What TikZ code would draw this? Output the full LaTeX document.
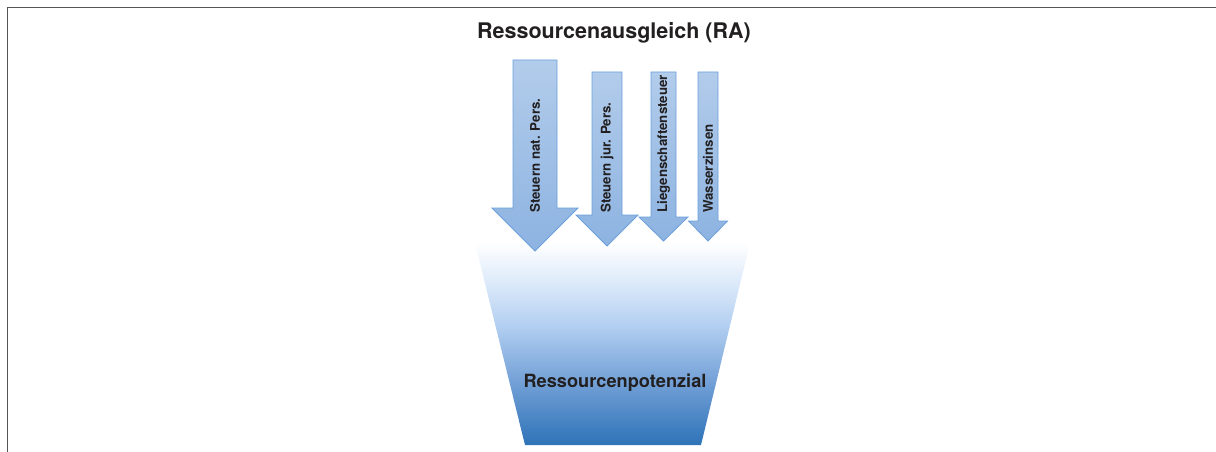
\documentclass[tikz,border=0pt]{standalone}
\usepackage{fontspec}
\setmainfont{TeX Gyre Heros}
\begin{document}
\definecolor{inkdark}{RGB}{34,31,32}
\definecolor{framegray}{RGB}{85,85,85}
\definecolor{arrowtop}{RGB}{178,204,235}
\definecolor{arrowbot}{RGB}{141,179,225}
\definecolor{arrowline}{RGB}{108,160,218}
\definecolor{potA}{RGB}{46,115,184}
\definecolor{potB}{RGB}{112,158,213}
\definecolor{potC}{RGB}{176,205,240}
\definecolor{potD}{RGB}{216,231,249}
\pgfdeclareverticalshading{potshade}{100bp}{%
  color(0bp)=(potA); color(25bp)=(potA); color(40bp)=(potB);
  color(54bp)=(potC); color(64bp)=(potD); color(75bp)=(white);
  color(100bp)=(white)}
% down arrow: centre x, shaft half width, top y, head y, head half width, tip y
\newcommand\taxarrow[7]{%
  \coordinate (#7-tip) at (#1,#6);
  \path[flowarrow]
    (#1-#2,#3) -- (#1+#2,#3) -- (#1+#2,#4) -- (#1+#5,#4) -- (#7-tip)
    -- (#1-#5,#4) -- (#1-#2,#4) -- cycle;}
\begin{tikzpicture}[x=1pt,y=-1pt,
  flowarrow/.style={draw=arrowline,line width=0.8pt,line join=miter,
    top color=arrowtop,bottom color=arrowbot},
  vlabel/.style={rotate=90,anchor=west,inner sep=0pt,font=\bfseries\fontsize{13.3}{15}\selectfont,text=inkdark},
  heading/.style={font=\bfseries\fontsize{21.5}{24}\selectfont,text=inkdark},
  potlabel/.style={font=\bfseries\fontsize{18.2}{21}\selectfont,text=inkdark}]
\useasboundingbox (0,0) rectangle (1216,452);
% frame: top and left rules
\draw[framegray,line width=1.8pt] (7.5,452) -- (7.5,7.5) -- (1216,7.5);
% resource pool
\path[shading=potshade] (475,243) -- (750,243) -- (701,445) -- (525,445) -- cycle;
\node[potlabel] (pool) at (615,383) {Ressourcenpotenzial};
% inflows
\taxarrow{535}{22}{60}{208}{43}{251}{natp}
\taxarrow{607}{15}{72}{215}{31}{246}{jurp}
\taxarrow{663.5}{12.5}{72}{217}{24.5}{241}{lieg}
\taxarrow{708}{10}{72}{221}{19.5}{241}{wass}
\node[vlabel] (lnatp) at (535,213) {Steuern nat. Pers.};
\node[vlabel] (ljurp) at (607,213) {Steuern jur. Pers.};
\node[vlabel] (llieg) at (663.5,213) {Liegenschaftensteuer};
\node[vlabel] (lwass) at (708,213) {Wasserzinsen};
\node[heading] (title) at (614,33) {Ressourcenausgleich (RA)};
\end{tikzpicture}
\end{document}
